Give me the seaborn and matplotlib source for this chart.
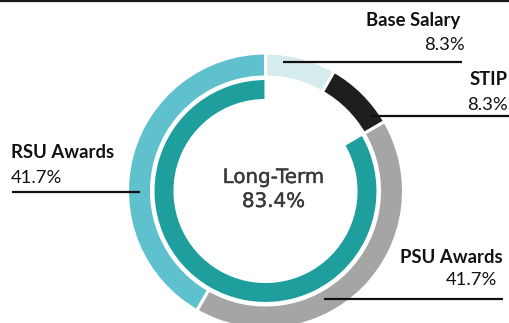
import matplotlib
matplotlib.use("Agg")
import matplotlib.pyplot as plt
import matplotlib.patheffects as pe
import seaborn as sns

# ---- data ----
categories = ["Base Salary", "STIP", "PSU Awards", "RSU Awards"]
values = [8.3, 8.3, 41.7, 41.7]
pct_labels = ["8.3%", "8.3%", "41.7%", "41.7%"]
outer_colors = ["#d5ecef", "#1e1e1e", "#a5a5a5", "#5ec1cd"]
inner_label = "Long-Term"
inner_value = 83.4
inner_color = "#1f9e9e"

sns.set_theme(style="white")
plt.rcParams["font.family"] = ["Lato", "DejaVu Sans"]

W, H = 509, 323
fig = plt.figure(figsize=(W / 100, H / 100), dpi=100)
ax = fig.add_axes([0, 0, 1, 1])

cx, cy = 265.5, H - 191

ax.pie(values, radius=138, center=(cx, cy), startangle=90, counterclock=False,
       colors=outer_colors,
       wedgeprops=dict(width=24, edgecolor="white", linewidth=2.2))

wedges, _ = ax.pie([inner_value, 100 - inner_value], radius=112, center=(cx, cy),
                   startangle=90, counterclock=True,
                   colors=[inner_color, "white"],
                   wedgeprops=dict(width=21, edgecolor="white", linewidth=1.5))
wedges[1].set_visible(False)

ax.set_xlim(0, W)
ax.set_ylim(0, H)
ax.set_aspect("equal")
ax.axis("off")

# top border
ax.plot([0, W], [H - 0.8, H - 0.8], color="#1a1a1a", lw=1.6, solid_capstyle="butt")

# center text
thick = [pe.withStroke(linewidth=0.3, foreground="#3a3a3a")]
ax.text(273.5, H - 183, inner_label, ha="center", va="baseline",
        fontsize=14.3, color="#3a3a3a", family=["DejaVu Sans"], path_effects=thick)
ax.text(273.5, H - 207, f"{inner_value}%", ha="center", va="baseline",
        fontsize=14.3, color="#3a3a3a", family=["DejaVu Sans"], path_effects=thick)

# labels: (name baseline, pct baseline, x, ha, pct x, line y, line x0, line x1)
layout = [
    (26, 50, 460, "right", 465, 62, 283, 462),
    (85, 110, 508, "right", 508, 116, 370, 509),
    (263, 285, 503, "right", 497, 299, 324, 503),
    (158, 183, 11, "left", 11, 192, 12, 140),
]
for cat, pct, (yb, yp, x, ha, xp, ly, lx0, lx1) in zip(categories, pct_labels, layout):
    ax.text(x, H - yb, cat, ha=ha, va="baseline", fontsize=13.3,
            fontweight="bold", color="#111111")
    ax.text(xp, H - yp, pct, ha=ha, va="baseline", fontsize=13.3, color="#111111")
    ax.plot([lx0, lx1], [H - ly, H - ly], color="#111111", lw=1.6,
            solid_capstyle="butt")

fig.savefig("out.png", dpi=100)
